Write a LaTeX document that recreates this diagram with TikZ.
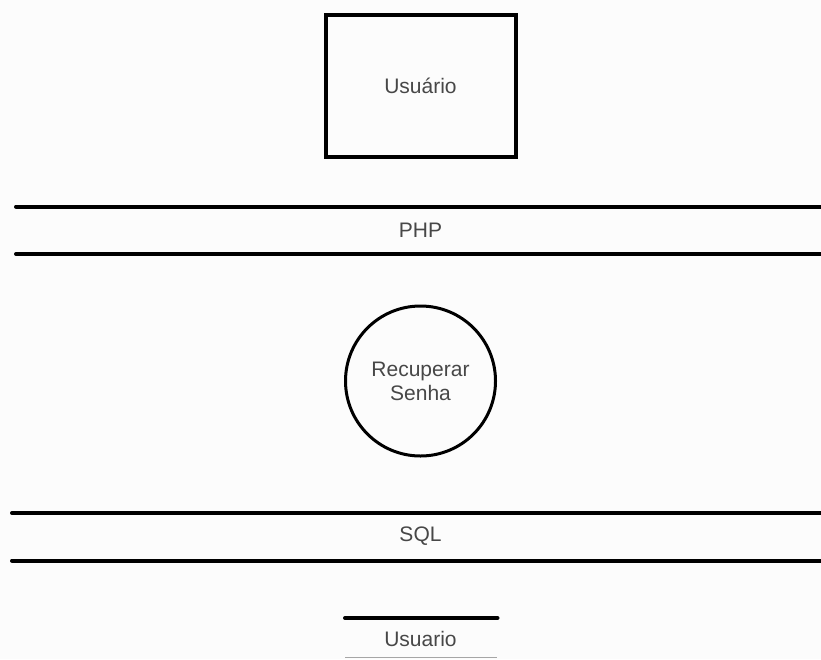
\documentclass[tikz,border=0pt]{standalone}
\usepackage{fontspec}
\setmainfont{Liberation Sans}
\begin{document}
\begin{tikzpicture}[x=1pt,y=-1pt,
  label/.style={text=black!72, font=\fontsize{21}{24}\selectfont, align=center, inner sep=0pt},
  layer/.style={line width=4pt, line cap=round},
  entity/.style={draw, line width=4pt, minimum width=190pt, minimum height=142pt, inner sep=0pt},
  process/.style={draw, circle, line width=3pt, minimum size=150pt, inner sep=0pt}]
  \useasboundingbox (0,0) rectangle (821,659);
  \fill[white!99!black] (0,0) rectangle (821,659);

  % external entity
  \node[entity, label] (usuario) at (420.5,86) {Usuário};

  % PHP layer
  \coordinate (php1a) at (16,206.5);  \coordinate (php1b) at (830,206.5);
  \coordinate (php2a) at (16,254);    \coordinate (php2b) at (830,254);
  \draw[layer] (php1a) -- (php1b);
  \draw[layer] (php2a) -- (php2b);
  \node[label] (php) at (420.5,230) {PHP};

  % process
  \node[process, label] (recuperar) at (420.5,381) {Recuperar\\Senha};

  % SQL layer
  \coordinate (sql1a) at (12,513);  \coordinate (sql1b) at (830,513);
  \coordinate (sql2a) at (12,560.5);  \coordinate (sql2b) at (830,560.5);
  \draw[layer] (sql1a) -- (sql1b);
  \draw[layer] (sql2a) -- (sql2b);
  \node[label] (sql) at (420.5,536) {SQL};

  % data store
  \coordinate (ds1a) at (345,618);  \coordinate (ds1b) at (497.5,618);
  \coordinate (ds2a) at (345,657.5);  \coordinate (ds2b) at (497,657.5);
  \draw[layer] (ds1a) -- (ds1b);
  \draw[line width=1pt, black!35] (ds2a) -- (ds2b);
  \node[label] (tabela) at (420.5,638.5) {Usuario};
\end{tikzpicture}
\end{document}
